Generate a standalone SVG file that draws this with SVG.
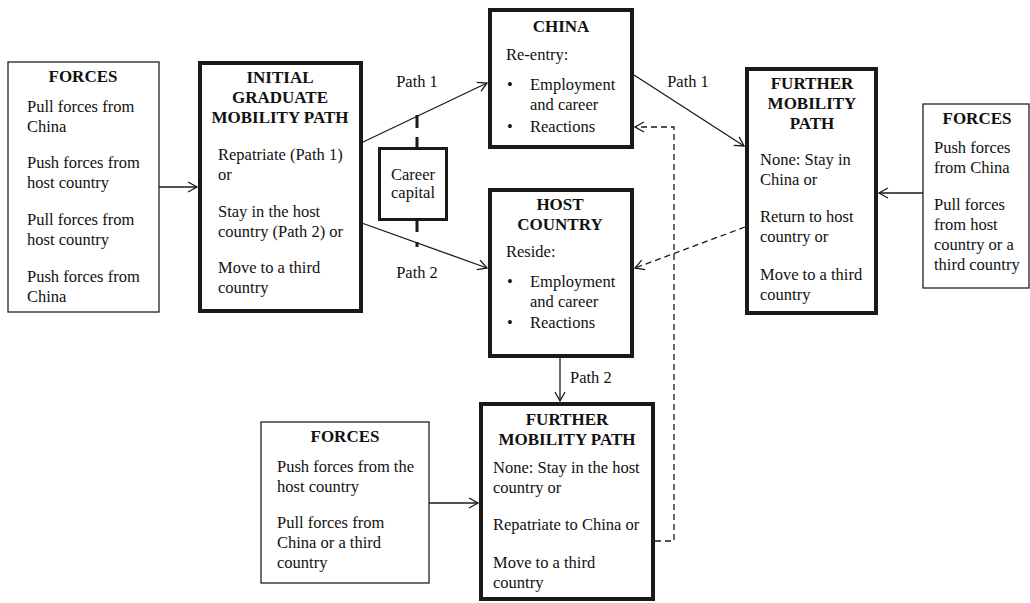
<svg xmlns="http://www.w3.org/2000/svg" width="1030" height="603" viewBox="0 0 1030 603">
<style>
text{font-family:"Liberation Serif","Times New Roman",serif;font-size:16.5px;fill:#111}
.b{font-weight:bold;font-size:17px}
.c{text-anchor:middle}
.thin{fill:#fff;stroke:#222;stroke-width:1.3}
.thick{fill:#fff;stroke:#1a1a1a;stroke-width:4}
.ln{fill:none;stroke:#1a1a1a;stroke-width:1.3}
.dash{fill:none;stroke:#1a1a1a;stroke-width:1.3;stroke-dasharray:6 4}
.cc{fill:none;stroke:#1a1a1a;stroke-width:3}
</style>
<defs>
<marker id="ah" markerUnits="userSpaceOnUse" markerWidth="14" markerHeight="14" refX="10" refY="6" orient="auto">
<path d="M1,1 L10,6 L1,11" fill="none" stroke="#1a1a1a" stroke-width="1.3"/>
</marker>
</defs>
<g id="connectors">
<line class="ln" x1="159" y1="187" x2="197" y2="187" marker-end="url(#ah)"/>
<line class="ln" x1="361" y1="143" x2="487" y2="83" marker-end="url(#ah)"/>
<line class="ln" x1="359" y1="222" x2="487" y2="268" marker-end="url(#ah)"/>
<line class="ln" x1="634" y1="75" x2="744" y2="146" marker-end="url(#ah)"/>
<line class="ln" x1="923" y1="193" x2="879" y2="193" marker-end="url(#ah)"/>
<line class="ln" x1="560" y1="358" x2="560" y2="401" marker-end="url(#ah)"/>
<line class="ln" x1="429" y1="503" x2="478" y2="503" marker-end="url(#ah)"/>
<path class="dash" d="M655,541 L674,541 L674,127 L635,127" marker-end="url(#ah)"/>
<line class="dash" x1="745" y1="227" x2="635" y2="268" marker-end="url(#ah)"/>
<path class="cc" d="M417,115 V128 M417,137 V148 M417,221 V232 M417,242 V247"/>
<text class="c" x="417" y="87">Path 1</text>
<text class="c" x="417" y="278">Path 2</text>
<text class="c" x="688" y="87">Path 1</text>
<text x="570" y="383">Path 2</text>
</g>
<g id="forces-left">
<rect class="thin" x="8" y="62" width="151" height="250"/>
<text class="b c" x="83" y="82">FORCES</text>
<text x="27" y="112">Pull forces from</text>
<text x="27" y="132">China</text>
<text x="27" y="168">Push forces from</text>
<text x="27" y="188">host country</text>
<text x="27" y="225">Pull forces from</text>
<text x="27" y="245">host country</text>
<text x="27" y="282">Push forces from</text>
<text x="27" y="302">China</text>
</g>
<g id="initial">
<rect class="thick" x="200" y="63" width="161" height="248"/>
<text class="b c" x="280" y="83">INITIAL</text>
<text class="b c" x="280" y="103">GRADUATE</text>
<text class="b c" x="280" y="123">MOBILITY PATH</text>
<text x="218" y="160">Repatriate (Path 1)</text>
<text x="218" y="180">or</text>
<text x="218" y="217">Stay in the host</text>
<text x="218" y="237">country (Path 2) or</text>
<text x="218" y="273">Move to a third</text>
<text x="218" y="293">country</text>
</g>
<g id="career-capital">
<rect class="cc" x="379.5" y="148.5" width="67" height="71" fill="#fff"/>
<text class="c" x="413" y="180">Career</text>
<text class="c" x="413" y="198">capital</text>
</g>
<g id="china">
<rect class="thick" x="490" y="10" width="142" height="137"/>
<text class="b c" x="561" y="32">CHINA</text>
<text x="506" y="60">Re-entry:</text>
<text x="507" y="90">•</text>
<text x="530" y="90">Employment</text>
<text x="530" y="110">and career</text>
<text x="507" y="132">•</text>
<text x="530" y="132">Reactions</text>
</g>
<g id="host">
<rect class="thick" x="490" y="190" width="142" height="166"/>
<text class="b c" x="560" y="210">HOST</text>
<text class="b c" x="560" y="230">COUNTRY</text>
<text x="506" y="257">Reside:</text>
<text x="507" y="287">•</text>
<text x="530" y="287">Employment</text>
<text x="530" y="307">and career</text>
<text x="507" y="328">•</text>
<text x="530" y="328">Reactions</text>
</g>
<g id="further-right">
<rect class="thick" x="747" y="69" width="129" height="244"/>
<text class="b c" x="812" y="89">FURTHER</text>
<text class="b c" x="812" y="109">MOBILITY</text>
<text class="b c" x="812" y="129">PATH</text>
<text x="760" y="165">None: Stay in</text>
<text x="760" y="185">China or</text>
<text x="760" y="222">Return to host</text>
<text x="760" y="242">country or</text>
<text x="760" y="280">Move to a third</text>
<text x="760" y="300">country</text>
</g>
<g id="forces-right">
<rect class="thin" x="923" y="104" width="106" height="184"/>
<text class="b c" x="977" y="124">FORCES</text>
<text x="934" y="153">Push forces</text>
<text x="934" y="173">from China</text>
<text x="934" y="210">Pull forces</text>
<text x="934" y="230">from host</text>
<text x="934" y="250">country or a</text>
<text x="934" y="270">third country</text>
</g>
<g id="further-lower">
<rect class="thick" x="481" y="404" width="172" height="195"/>
<text class="b c" x="567" y="425">FURTHER</text>
<text class="b c" x="567" y="445">MOBILITY PATH</text>
<text x="493" y="473">None: Stay in the host</text>
<text x="493" y="493">country or</text>
<text x="493" y="530">Repatriate to China or</text>
<text x="493" y="568">Move to a third</text>
<text x="493" y="588">country</text>
</g>
<g id="forces-lower">
<rect class="thin" x="261" y="422" width="168" height="161"/>
<text class="b c" x="345" y="442">FORCES</text>
<text x="277" y="472">Push forces from the</text>
<text x="277" y="492">host country</text>
<text x="277" y="528">Pull forces from</text>
<text x="277" y="548">China or a third</text>
<text x="277" y="568">country</text>
</g>
</svg>
